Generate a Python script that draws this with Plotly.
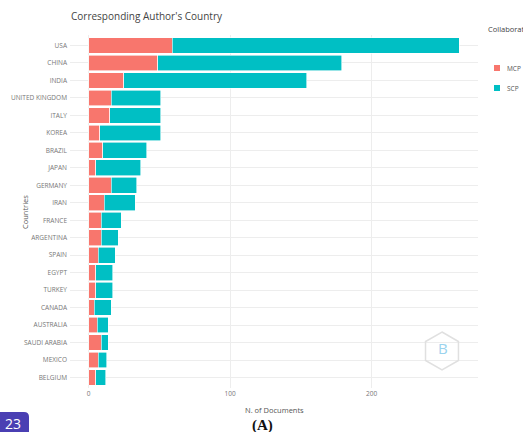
import math
import plotly.graph_objects as go

# Corresponding author's country: single- vs multiple-country publications
countries = ["USA", "CHINA", "INDIA", "UNITED KINGDOM", "ITALY", "KOREA", "BRAZIL",
             "JAPAN", "GERMANY", "IRAN", "FRANCE", "ARGENTINA", "SPAIN", "EGYPT",
             "TURKEY", "CANADA", "AUSTRALIA", "SAUDI ARABIA", "MEXICO", "BELGIUM"]
mcp = [59, 49, 25, 16, 15, 8, 10, 5, 16, 11, 9, 9, 7, 5, 5, 4, 6, 9, 7, 5]
scp = [203, 130, 129, 35, 36, 43, 31, 32, 18, 22, 14, 12, 12, 12, 12, 12, 8, 5, 6, 7]
x_ticks = [0, 100, 200]

W, H = 523, 432
L, R, T, B = 70, 478, 35, 388   # plot area in pixels

MCP_COL = "#F8766D"
SCP_COL = "#00BFC4"

fig = go.Figure()
fig.add_trace(go.Bar(y=countries, x=mcp, orientation="h", name="MCP",
                     marker=dict(color=MCP_COL, line=dict(color="white", width=0.6))))
fig.add_trace(go.Bar(y=countries, x=scp, orientation="h", name="SCP",
                     marker=dict(color=SCP_COL, line=dict(color="white", width=0.6))))

totals = [a + b for a, b in zip(mcp, scp)]
xmax = max(totals)
pad = 0.05 * xmax

fig.update_layout(
    width=W, height=H,
    barmode="stack", bargap=0.1,
    paper_bgcolor="white", plot_bgcolor="white",
    margin=dict(l=L, r=W - R, t=T, b=H - B, pad=0),
    showlegend=False,
    font=dict(family="Open Sans, DejaVu Sans, sans-serif", color="#555555"),
    xaxis=dict(range=[-pad, xmax + pad], tickvals=x_ticks, ticks="",
               showgrid=True, gridcolor="#ededed", gridwidth=1, zeroline=False,
               showline=False, tickfont=dict(size=6.5, color="#777777")),
    yaxis=dict(categoryorder="array", categoryarray=countries,
               range=[len(countries) - 0.4, -0.6], ticks="",
               showgrid=True, gridcolor="#ededed", gridwidth=1, zeroline=False,
               showline=False, tickfont=dict(size=6.5, color="#777777"),
               ticklabelstandoff=2),
)

def px(xp):
    return (xp - L) / (R - L)

def py(yp):
    return (B - yp) / (B - T)

ann = []
# title
ann.append(dict(text="Corresponding Author's Country", xref="paper", yref="paper",
                x=px(69), y=py(16), xanchor="left", yanchor="middle", showarrow=False,
                font=dict(size=10, color="#444444")))
# axis titles
ann.append(dict(text="N. of Documents", xref="paper", yref="paper",
                x=px(274), y=py(410), xanchor="center", yanchor="middle", showarrow=False,
                font=dict(size=7.5, color="#555555")))
ann.append(dict(text="Countries", xref="paper", yref="paper", textangle=-90,
                x=px(25), y=py(212), xanchor="center", yanchor="middle", showarrow=False,
                font=dict(size=7.5, color="#555555")))
# legend
ann.append(dict(text="Collaboration", xref="paper", yref="paper",
                x=px(486), y=py(29), xanchor="left", yanchor="middle", showarrow=False,
                font=dict(size=7.5, color="#444444")))
for name, col, yc in [("MCP", MCP_COL, 68), ("SCP", SCP_COL, 88)]:
    ann.append(dict(text=name, xref="paper", yref="paper",
                    x=px(505), y=py(yc), xanchor="left", yanchor="middle", showarrow=False,
                    font=dict(size=6.5, color="#555555")))
    fig.add_shape(type="rect", xref="paper", yref="paper",
                  x0=px(494), x1=px(500), y0=py(yc + 3), y1=py(yc - 3),
                  fillcolor=col, line=dict(width=0))

# panel label and page number
ann.append(dict(text="<b>(A)</b>", xref="paper", yref="paper",
                x=px(262), y=py(425), xanchor="center", yanchor="middle", showarrow=False,
                font=dict(size=15, color="#111111", family="Liberation Serif, serif")))
fig.add_shape(type="path", xref="paper", yref="paper",
              path=("M {x0},{y0} L {x0},{y1} L {x2},{y1} Q {x3},{y1} {x3},{y2} L {x3},{y0} Z"
                    .format(x0=px(0), x2=px(24), x3=px(29),
                            y0=py(432), y1=py(412), y2=py(417))),
              fillcolor="#4a3fb3", line=dict(width=0))
ann.append(dict(text="23", xref="paper", yref="paper",
                x=px(13), y=py(423), xanchor="center", yanchor="middle", showarrow=False,
                font=dict(size=14, color="white", family="Open Sans, sans-serif")))

# bibliometrix hexagon badge
cx, cy, r = 442, 351, 19
pts = [(cx + r * math.sin(math.radians(a)), cy - r * math.cos(math.radians(a)))
       for a in range(0, 360, 60)]
path = "M " + " L ".join(f"{px(x):.4f},{py(y):.4f}" for x, y in pts) + " Z"
fig.add_shape(type="path", xref="paper", yref="paper", path=path,
              fillcolor="rgba(255,255,255,0)", line=dict(color="#e0e0e0", width=1.5))
ann.append(dict(text="B", xref="paper", yref="paper",
                x=px(443), y=py(348), xanchor="center", yanchor="middle", showarrow=False,
                font=dict(size=15, color="#9ad3ee")))

fig.update_layout(annotations=ann)
fig.write_html("out.html")
